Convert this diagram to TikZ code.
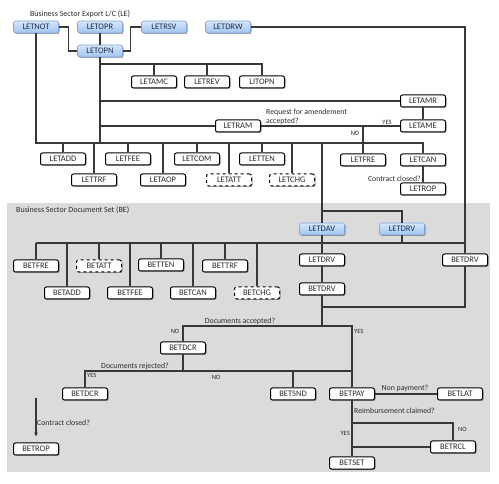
\documentclass[tikz,border=0pt]{standalone}
\usepackage{fontspec}
\setmainfont{Carlito}
\usetikzlibrary{shadows,arrows.meta}
\definecolor{bggray}{HTML}{DBDBDB}
\definecolor{wire}{HTML}{383838}
\definecolor{bluetop}{HTML}{D6E7FB}
\definecolor{bluebot}{HTML}{9FC4EF}
\definecolor{blueline}{HTML}{7FA8D8}
\definecolor{bluetext}{HTML}{1C2E4A}
\definecolor{graytext}{HTML}{2C2C2C}

\begin{document}
\begin{tikzpicture}[x=1pt,y=-1pt,
  box/.style={rounded corners=2pt,minimum width=45pt,minimum height=12pt,inner sep=0pt,
    font=\fontsize{8.5}{9}\selectfont,
    drop shadow={shadow xshift=1pt,shadow yshift=-1pt,opacity=0.35,fill=black}},
  trxbox/.style={box,draw=blueline,top color=bluetop,bottom color=bluebot,text=bluetext,line width=0.6pt},
  docbox/.style={box,draw=black,fill=white,text=graytext,line width=1pt},
  tbdbox/.style={docbox,dashed},
  lbl/.style={inner sep=0pt,font=\fontsize{7.8}{8.8}\selectfont,text=graytext},
  tiny/.style={inner sep=0pt,font=\fontsize{6.5}{7}\selectfont,text=graytext},
  conn/.style={draw=wire,line width=1.2pt}]
\useasboundingbox (0,0) rectangle (499,484);
\fill[white] (0,0) rectangle (499,484);
\fill[bggray] (7,203) rectangle (490,472);

% titles
\node[lbl,font=\fontsize{8}{9}\selectfont] (ttlle) at (80,14) {Business Sector Export L/C (LE)};
\node[lbl,font=\fontsize{8}{9}\selectfont,anchor=west] (ttlbe) at (16,210) {Business Sector Document Set (BE)};

% letter of credit
\node[style=trxbox] (letnot) at (36, 27) {LETNOT};
\node[style=trxbox] (letopr) at (100, 27) {LETOPR};
\node[style=trxbox] (letrsv) at (164, 27) {LETRSV};
\node[style=trxbox] (letdrw) at (228, 27) {LETDRW};
\node[style=trxbox] (letopn) at (100, 51) {LETOPN};
\node[style=docbox] (letamc) at (154, 82) {LETAMC};
\node[style=docbox] (letrev) at (207, 82) {LETREV};
\node[style=docbox] (litopn) at (262, 82) {LITOPN};
\node[style=docbox] (letamr) at (423, 101) {LETAMR};
\node[style=docbox] (letram) at (238, 126) {LETRAM};
\node[style=docbox] (letame) at (423, 126) {LETAME};
\node[style=docbox] (letadd) at (63, 159) {LETADD};
\node[style=docbox] (lettrf) at (94, 180) {LETTRF};
\node[style=docbox] (letfee) at (128, 159) {LETFEE};
\node[style=docbox] (letaop) at (163, 180) {LETAOP};
\node[style=docbox] (letcom) at (197, 159) {LETCOM};
\node[style=tbdbox] (letatt) at (229, 180) {LETATT};
\node[style=docbox] (letten) at (262, 159) {LETTEN};
\node[style=tbdbox] (letchg) at (292, 180) {LETCHG};
\node[style=docbox] (letfre) at (363, 160) {LETFRE};
\node[style=docbox] (letcan) at (423, 160) {LETCAN};
\node[style=docbox] (letrop) at (423, 189) {LETROP};

% document set
\node[style=trxbox] (letdav) at (322, 229) {LETDAV};
\node[style=trxbox] (letdrvb) at (402, 229) {LETDRV};
\node[style=docbox] (betfre) at (36, 266) {BETFRE};
\node[style=tbdbox] (betatt) at (99, 266) {BETATT};
\node[style=docbox] (betten) at (161, 265) {BETTEN};
\node[style=docbox] (bettrf) at (225, 266) {BETTRF};
\node[style=docbox] (betadd) at (67, 293) {BETADD};
\node[style=docbox] (betfee) at (130, 293) {BETFEE};
\node[style=docbox] (betcan) at (193, 293) {BETCAN};
\node[style=tbdbox] (betchg) at (257, 293) {BETCHG};
\node[style=docbox] (letdrvw) at (322, 260) {LETDRV};
\node[style=docbox] (betdrvc) at (322, 289) {BETDRV};
\node[style=docbox] (betdrvr) at (465, 260) {BETDRV};
\node[style=docbox] (betdcra) at (183, 348) {BETDCR};
\node[style=docbox] (betdcrb) at (85, 394) {BETDCR};
\node[style=docbox] (betrop) at (36, 449) {BETROP};
\node[style=docbox] (betsnd) at (293, 394) {BETSND};
\node[style=docbox] (betpay) at (352, 394) {BETPAY};
\node[style=docbox] (betlat) at (460, 394) {BETLAT};
\node[style=docbox] (betrcl) at (453, 447) {BETRCL};
\node[style=docbox] (betset) at (352, 463) {BETSET};

% questions
\node[lbl,anchor=west,align=left] (qamend) at (266, 117) {Request for amendement\\accepted?};
\node[tiny] (qamendyes) at (387, 122) {YES};
\node[tiny] (qamendno) at (355, 133) {NO};
\node[lbl,anchor=east] (qclosedle) at (421, 179) {Contract closed?};
\node[lbl] (qaccept) at (240, 321) {Documents accepted?};
\node[tiny] (qacceptno) at (175, 331) {NO};
\node[tiny,anchor=west] (qacceptyes) at (354, 331) {YES};
\node[lbl] (qreject) at (135, 366) {Documents rejected?};
\node[tiny,anchor=west] (qrejectyes) at (87, 375) {YES};
\node[tiny] (qrejectno) at (216, 377) {NO};
\node[lbl,anchor=west] (qclosedbe) at (37, 423) {Contract closed?};
\node[lbl] (qnonpay) at (405, 388) {Non payment?};
\node[lbl,anchor=west] (qreimb) at (354, 411) {Reimbursement claimed?};
\node[tiny,anchor=west] (qreimbno) at (458, 429) {NO};
\node[tiny,anchor=east] (qreimbyes) at (350, 433) {YES};

\coordinate (lebus) at (36, 143);
\coordinate (amcbus) at (100, 64);
\coordinate (dav) at (322, 211);
\coordinate (bebus) at (36, 243);
\coordinate (drvjoin) at (322, 307);
\coordinate (accept) at (322, 326);
\coordinate (reject) at (183, 371);
\coordinate (reimb) at (352, 423);
\coordinate (closed) at (36, 398);

% LE wiring
\path[conn] (letnot) -- (lebus) -- (lebus -| letcan) -- (letcan);
\path[conn] (letnot.east) -- ++(10,0) |- (letopn);
\path[conn] (letrsv.west) -- ++(-11,0) |- (letopn);
\path[conn] (letopn) -- (letopn |- lebus);
\path[conn] (amcbus) -| (litopn);
\path[conn] (letopn |- letamr) -- (letamr);
\path[conn] (letopn |- letram) -- (letram);
\path[conn] (letdrw) -| (betdrvr);
\path[conn] (letopr) edge (letopn)
    (letamc) edge (letamc |- amcbus)
    (letrev) edge (letrev |- amcbus)
    (letram) edge (letame)
    (letamr) edge (letame)
    (letfre) edge (letfre |- letame)
    (letcan) edge (letrop);
\foreach \n in {letadd,lettrf,letfee,letaop,letcom,letatt,letten,letchg}
  \path[conn] (\n) -- (\n |- lebus);

% BE wiring
\path[conn] (letdav |- lebus) -- (letdav) -- (letdrvw) -- (betdrvc) -- (accept);
\path[conn] (dav) -| (letdrvb);
\path[conn] (letdrvb) -- (letdrvb |- bebus);
\path[conn] (bebus) -- (bebus -| betdrvr);
\foreach \n in {betfre,betatt,betten,bettrf,betadd,betfee,betcan,betchg}
  \path[conn] (\n) -- (\n |- bebus);
\path[conn] (betdrvr) |- (drvjoin);
\path[conn] (betdcra) |- (accept) -| (betpay);
\path[conn] (betdcra) -- (reject);
\path[conn] (betdcrb) |- (reject) -- (reject -| betpay);
\path[conn] (betsnd) -- (betsnd |- reject);
\path[conn] (betpay) edge (betlat)
    (betpay) edge (betset)
    (betrcl) edge (betrcl -| betpay);
\path[conn] (reimb) -| (betrcl);
\path[conn,-{Stealth[length=4pt,width=3.5pt]},shorten >=6pt] (closed) -- (betrop);
\end{tikzpicture}
\end{document}
